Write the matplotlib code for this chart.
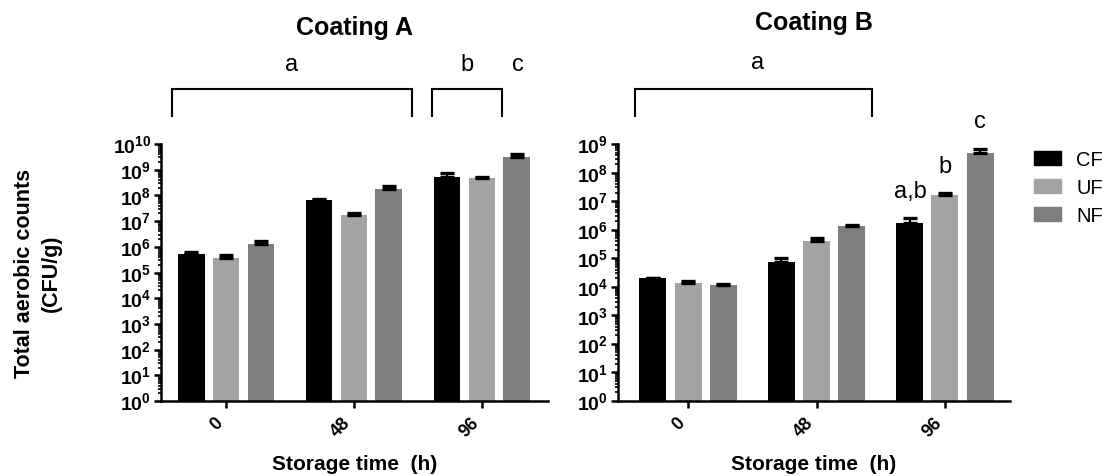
import numpy as np
import matplotlib
matplotlib.use("Agg")
import matplotlib.pyplot as plt
from matplotlib.ticker import LogLocator, FixedLocator, NullFormatter, FuncFormatter
import matplotlib.transforms as mtransforms

plt.rcParams['font.family'] = ['Liberation Sans', 'DejaVu Sans']
plt.rcParams['mathtext.fontset'] = 'custom'
plt.rcParams['mathtext.rm'] = 'Liberation Sans'
plt.rcParams['mathtext.bf'] = 'Liberation Sans:bold'

# data (CFU/g)
times = ["0", "48", "96"]
series = ["CF", "UF", "NF"]
colors = ["#000000", "#a3a3a6", "#7f7f7f"]

coatA_mean = {"CF": [5.2e5, 6.6e7, 5.0e8],
              "UF": [3.6e5, 1.7e7, 4.6e8],
              "NF": [1.3e6, 1.8e8, 3.1e9]}
coatA_err = {"CF": [1.2e5, 6e6, 2.4e8],
             "UF": [1.2e5, 4e6, 7e7],
             "NF": [4e5, 6e7, 9e8]}
coatB_mean = {"CF": [1.95e4, 7.1e4, 1.7e6],
              "UF": [1.4e4, 4.0e5, 1.7e7],
              "NF": [1.15e4, 1.35e6, 4.7e8]}
coatB_err = {"CF": [1.5e3, 3.1e4, 9e5],
             "UF": [2e3, 1.1e5, 3e6],
             "NF": [1.5e3, 1.5e5, 1.8e8]}

W, H = 1110, 477
fig = plt.figure(figsize=(W / 100, H / 100), dpi=100)

def px_rect(x0, x1, ytop, ybot):
    return [x0 / W, (H - ybot) / H, (x1 - x0) / W, (ybot - ytop) / H]

axA = fig.add_axes(px_rect(161, 548, 145, 402))
axB = fig.add_axes(px_rect(618, 1010, 145, 402))

offset = 0.273
width = 0.21
x = np.arange(len(times))

def sci_fmt(v, pos):
    e = int(round(np.log10(v)))
    return r'$\mathbf{10}^{\mathbf{%d}}$' % e

def draw_panel(ax, means, errs, top_exp, xlim):
    for i, s in enumerate(series):
        xs = x + (i - 1) * offset
        ax.bar(xs, means[s], width, color=colors[i], zorder=2, bottom=1)
        yerr = np.array([np.zeros(len(times)), errs[s]])
        ax.errorbar(xs, means[s], yerr=yerr, fmt='none', ecolor='black',
                    elinewidth=1.6, capsize=4.7, capthick=2.4, zorder=3)
    ax.set_yscale('log')
    ax.set_ylim(1, 10 ** top_exp)
    ax.set_xlim(*xlim)
    ax.yaxis.set_major_locator(FixedLocator([10.0 ** k for k in range(top_exp + 1)]))
    ax.yaxis.set_major_formatter(FuncFormatter(sci_fmt))
    ax.yaxis.set_minor_locator(LogLocator(base=10, subs=np.arange(2, 10), numticks=20))
    ax.yaxis.set_minor_formatter(NullFormatter())
    ax.set_xticks(x)
    ax.set_xticklabels(times, rotation=45, ha='right', fontsize=13, fontweight='bold')
    ax.tick_params(axis='y', which='major', direction='out', length=5, width=1.8,
                   labelsize=14, pad=2)
    ax.tick_params(axis='y', which='minor', direction='out', length=2.5, width=1.2)
    ax.tick_params(axis='x', which='major', direction='out', length=5, width=1.8, pad=4)
    for sp in ['top', 'right']:
        ax.spines[sp].set_visible(False)
    for sp in ['left', 'bottom']:
        ax.spines[sp].set_linewidth(1.8)
    ax.text(0.5, -0.245, "Storage time  (h)", transform=ax.transAxes, ha='center',
            va='center', fontsize=15, fontweight='bold')

def bracket(ax, x0, x1, ytop=1.214, ybot=1.109):
    tr = mtransforms.blended_transform_factory(ax.transData, ax.transAxes)
    ax.plot([x0, x0, x1, x1], [ybot, ytop, ytop, ybot], color='black', lw=1.5,
            transform=tr, clip_on=False, solid_joinstyle='miter')

def letter(ax, xpos, ypos, s):
    tr = mtransforms.blended_transform_factory(ax.transData, ax.transAxes)
    ax.text(xpos, ypos, s, transform=tr, ha='center', va='center', fontsize=17)

draw_panel(axA, coatA_mean, coatA_err, 10, (-0.508, 2.516))
draw_panel(axB, coatB_mean, coatB_err, 9, (-0.545, 2.506))

axA.text(0.5, 1.455, "Coating A", transform=axA.transAxes, ha='center', va='center',
         fontsize=18, fontweight='bold')
axB.text(0.5, 1.475, "Coating B", transform=axB.transAxes, ha='center', va='center',
         fontsize=18, fontweight='bold')

bracket(axA, -0.42, 1.45)
bracket(axA, 1.61, 2.16)
letter(axA, 0.515, 1.311, "a")
letter(axA, 1.885, 1.311, "b")
letter(axA, 2.28, 1.311, "c")

bracket(axB, -0.41, 1.43)
letter(axB, 0.545, 1.319, "a")
letter(axB, 1.73, 0.817, "a,b")
letter(axB, 2.0, 0.914, "b")
letter(axB, 2.27, 1.089, "c")

fig.text(38 / W, (H - 273.5) / H, "Total aerobic counts\n(CFU/g)", rotation=90,
         ha='center', va='center', fontsize=15.5, fontweight='bold', linespacing=1.4,
         multialignment='center')

handles = [plt.Rectangle((0, 0), 1, 1, color=c) for c in colors]
fig.legend(handles, series, loc='upper left', bbox_to_anchor=(1034 / W, (H - 151) / H),
           frameon=False, fontsize=14.5, handlelength=1.35, handleheight=0.75,
           handletextpad=0.75, labelspacing=0.45, borderpad=0, borderaxespad=0)

fig.savefig("out.png", dpi=100)
